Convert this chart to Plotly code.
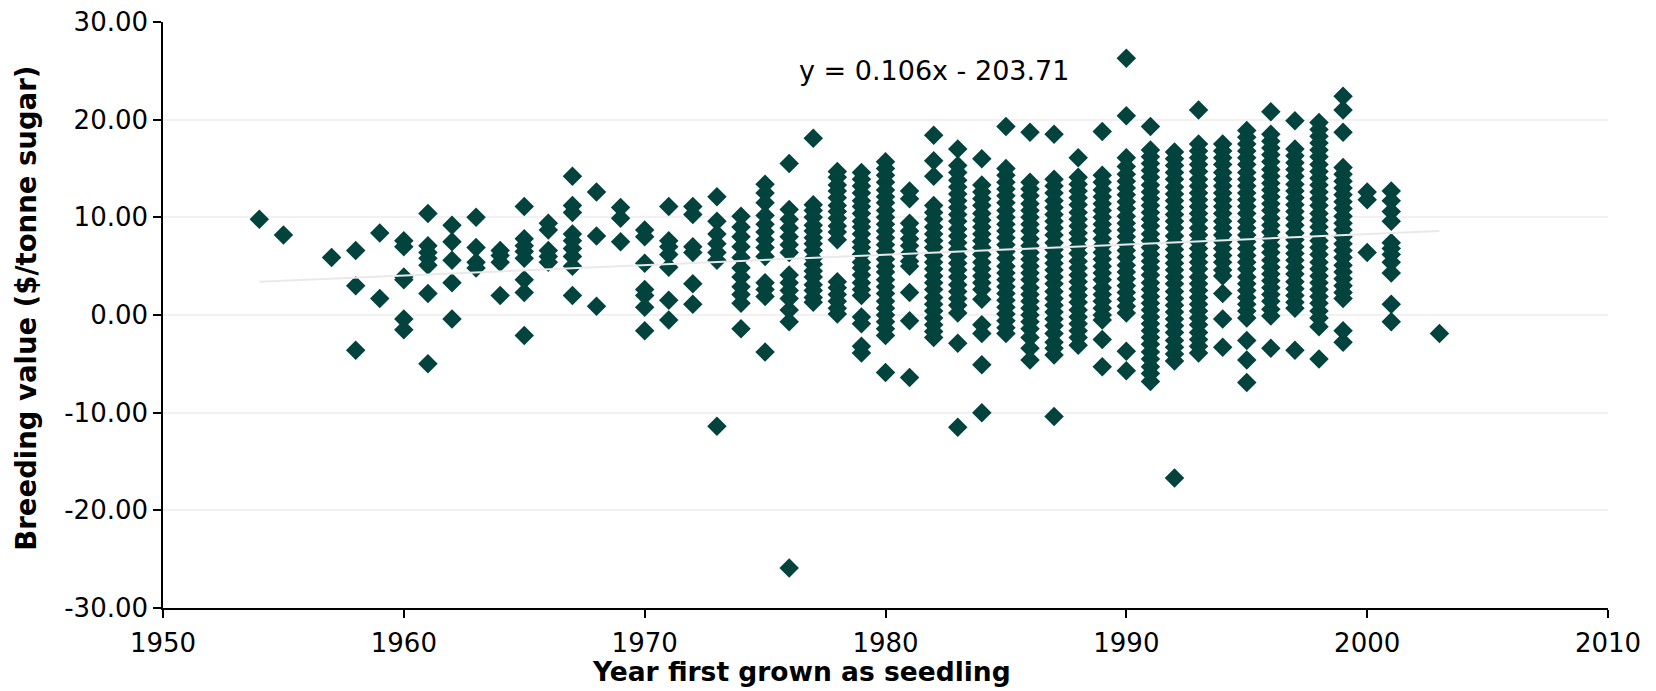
import plotly.graph_objects as go

# ---- data: breeding value ($/tonne sugar) by year first grown as seedling ----
bv_1950s = {
    1954: [9.8],
    1955: [8.2],
    1957: [5.9],
    1958: [6.6, 3.0, -3.6],
    1959: [8.4, 1.7],
}
bv_1960s = {
    1960: [7.6, 7.0, 3.9, 3.6, -0.4, -1.5],
    1961: [10.4, 7.1, 6.4, 5.8, 5.1, 2.2, -5.0],
    1962: [9.2, 7.5, 5.6, 3.3, -0.4],
    1963: [10.0, 6.9, 5.4, 4.8],
    1964: [6.6, 6.1, 5.4, 2.0],
    1965: [11.1, 7.8, 7.1, 6.5, 5.8, 3.6, 2.3, -2.1],
    1966: [9.4, 8.7, 6.6, 6.0, 5.4],
    1967: [14.2, 11.2, 10.5, 8.3, 7.6, 6.8, 6.0, 5.0, 2.0],
    1968: [12.6, 8.1, 0.9],
    1969: [11.0, 9.9, 7.5],
}
bv_1970s = {
    1970: [8.7, 8.0, 5.3, 2.6, 2.0, 0.8, -1.6],
    1971: [11.1, 7.6, 7.0, 6.2, 4.9, 1.5, -0.5],
    1972: [11.1, 10.3, 7.0, 6.4, 3.2, 1.1],
    1973: [12.1, 9.6, 8.3, 7.3, 6.4, 5.6, -11.4],
    1974: [10.1, 9.0, 8.0, 7.0, 5.9, 4.8, 3.9, 2.9, 2.1, 1.2, -1.4],
    1975: [13.4, 12.5, 11.5, 10.2, 9.3, 8.5, 7.7, 6.9, 6.0, 3.3, 2.6, 1.9, -3.8],
    1976: [15.5, 10.8, 9.8, 8.9, 8.0, 7.2, 6.4, 4.1, 3.3, 2.5, 1.7, 0.5, -0.7, -25.9],
    1977: [18.1, 11.3, 10.7, 10.0, 9.2, 8.6, 7.9, 7.3, 6.6, 5.8, 5.2, 4.5, 3.9,
           3.1, 2.5, 1.8, 1.3],
    1978: [14.7, 14.1, 13.3, 12.7, 12.0, 11.2, 10.6, 9.9, 9.1, 8.5, 7.7, 3.4, 2.8,
           2.1, 1.4, 0.7, 0.1],
    1979: [14.6, 13.9, 13.2, 12.5, 11.7, 11.1, 10.4, 9.6, 9.0, 8.3, 7.5, 6.9, 6.2,
           5.4, 4.8, 4.1, 3.3, 2.6, 2.0, -0.2, -0.9, -3.2, -3.9],
}
bv_1980s = {
    1980: [15.7, 15.0, 14.3, 13.6, 12.8, 12.1, 11.5, 10.7, 10.0, 9.3, 8.6, 7.9,
           7.2, 6.5, 5.7, 5.0, 4.4, 3.6, 2.9, 2.2, 1.4, 0.7, 0.0, -0.7, -1.4,
           -2.1, -5.9],
    1981: [12.7, 11.9, 9.4, 8.6, 7.8, 7.1, 6.3, 5.5, 5.0, 2.3, -0.6, -6.4],
    1982: [18.4, 15.8, 14.2, 11.2, 10.5, 9.8, 9.0, 8.3, 7.6, 6.9, 6.1, 5.4, 4.7,
           4.0, 3.3, 2.6, 1.8, 1.1, 0.4, -0.3, -1.0, -1.7, -2.3],
    1983: [17.0, 15.3, 14.6, 13.8, 13.1, 12.4, 11.7, 11.0, 10.3, 9.6, 8.8, 8.1,
           7.4, 6.7, 6.0, 5.3, 4.6, 3.9, 3.1, 2.4, 1.7, 1.0, 0.2, -2.9, -11.5],
    1984: [16.0, 13.3, 12.6, 11.9, 11.2, 10.4, 9.7, 9.0, 8.3, 7.6, 6.9, 6.2, 5.4,
           4.7, 4.0, 3.3, 2.6, 1.6, -1.0, -1.9, -5.1, -10.0],
    1985: [19.3, 15.0, 14.3, 13.6, 12.9, 12.2, 11.5, 10.7, 10.0, 9.3, 8.6, 7.9,
           7.2, 6.5, 5.8, 5.0, 4.3, 3.6, 2.9, 2.2, 1.5, 0.8, 0.1, -0.6, -1.3, -1.9],
    1986: [18.7, 13.6, 12.9, 12.2, 11.4, 10.7, 10.0, 9.3, 8.6, 7.8, 7.1, 6.4, 5.7,
           5.0, 4.3, 3.6, 2.8, 2.1, 1.4, 0.7, 0.0, -0.7, -1.4, -2.3, -3.4, -4.6],
    1987: [18.5, 13.9, 13.2, 12.5, 11.7, 11.0, 10.3, 9.6, 8.9, 8.2, 7.4, 6.7, 6.0,
           5.3, 4.6, 3.9, 3.2, 2.4, 1.7, 1.0, 0.3, -0.4, -1.1, -1.9, -2.8, -3.4,
           -4.1, -10.4],
    1988: [16.1, 14.1, 13.4, 12.7, 12.0, 11.3, 10.5, 9.8, 9.1, 8.4, 7.7, 7.0, 6.3,
           5.5, 4.8, 4.1, 3.4, 2.7, 2.0, 1.3, 0.5, -0.2, -0.9, -1.6, -2.3, -3.1],
    1989: [18.8, 14.3, 13.6, 12.8, 12.1, 11.4, 10.7, 10.0, 9.3, 8.6, 7.8, 7.1, 6.4,
           5.7, 5.0, 4.3, 3.6, 2.8, 2.1, 1.4, 0.7, 0.0, -0.5, -2.5, -5.3],
}
bv_1990s = {
    1990: [26.3, 20.4, 16.1, 15.2, 14.4, 13.7, 13.0, 12.3, 11.6, 10.9, 10.1, 9.4,
           8.7, 8.0, 7.3, 6.6, 5.9, 5.1, 4.4, 3.7, 3.0, 2.3, 1.6, 0.9, 0.2, -3.7,
           -5.7],
    1991: [19.3, 16.9, 16.2, 15.5, 14.8, 14.1, 13.3, 12.6, 11.9, 11.2, 10.5, 9.8,
           9.1, 8.3, 7.6, 6.9, 6.2, 5.5, 4.8, 4.1, 3.3, 2.6, 1.9, 1.2, 0.5, -0.2,
           -0.9, -1.6, -2.3, -3.0, -3.8, -4.5, -5.3, -6.0, -6.8],
    1992: [16.7, 16.0, 15.3, 14.6, 13.9, 13.1, 12.4, 11.7, 11.0, 10.3, 9.6, 8.9,
           8.1, 7.4, 6.7, 6.0, 5.3, 4.6, 3.9, 3.2, 2.4, 1.7, 1.0, 0.3, -0.4, -1.1,
           -1.8, -2.6, -3.3, -4.0, -4.7, -16.7],
    1993: [21.0, 17.5, 16.8, 16.1, 15.4, 14.7, 13.9, 13.2, 12.5, 11.8, 11.1, 10.4,
           9.7, 8.9, 8.2, 7.5, 6.8, 6.1, 5.4, 4.7, 3.9, 3.2, 2.5, 1.8, 1.1, 0.4,
           -0.3, -1.0, -1.8, -2.5, -3.2, -3.9],
    1994: [17.5, 16.8, 16.1, 15.4, 14.6, 13.9, 13.2, 12.5, 11.8, 11.1, 10.4, 9.6,
           8.9, 8.2, 7.5, 6.8, 6.1, 5.4, 4.6, 4.0, 2.2, -0.4, -3.3],
    1995: [18.9, 18.2, 17.5, 16.8, 16.1, 15.4, 14.6, 13.9, 13.2, 12.5, 11.8, 11.1,
           10.4, 9.6, 8.9, 8.2, 7.5, 6.8, 6.1, 5.4, 4.7, 3.9, 3.2, 2.5, 1.8, 1.1,
           0.4, -0.3, -2.6, -4.6, -6.9],
    1996: [20.8, 18.5, 17.8, 17.1, 16.4, 15.7, 14.9, 14.2, 13.5, 12.8, 12.1, 11.4,
           10.7, 9.9, 9.2, 8.5, 7.8, 7.1, 6.4, 5.6, 4.9, 4.2, 3.5, 2.8, 2.1, 1.4,
           0.6, -0.1, -3.4],
    1997: [19.9, 17.0, 16.3, 15.6, 14.9, 14.2, 13.4, 12.7, 12.0, 11.3, 10.6, 9.9,
           9.2, 8.4, 7.7, 7.0, 6.3, 5.6, 4.9, 4.2, 3.4, 2.7, 2.0, 1.3, 0.7, -3.6],
    1998: [19.7, 19.0, 18.3, 17.6, 16.9, 16.2, 15.4, 14.7, 14.0, 13.3, 12.6, 11.9,
           11.2, 10.4, 9.7, 9.0, 8.3, 7.6, 6.9, 6.2, 5.4, 4.7, 4.0, 3.3, 2.6, 1.9,
           1.2, 0.4, -0.3, -1.2, -4.5],
    1999: [22.4, 21.0, 18.7, 15.1, 14.4, 13.7, 13.0, 12.3, 11.6, 10.9, 10.1, 9.4,
           8.7, 8.0, 7.3, 6.6, 5.9, 5.1, 4.4, 3.7, 3.0, 2.3, 1.7, -1.6, -2.8],
}
bv_2000s = {
    2000: [12.6, 11.8, 6.4],
    2001: [12.7, 11.7, 10.6, 9.6, 7.4, 6.8, 6.2, 5.4, 4.3, 1.1, -0.7],
    2003: [-1.9],
}

# linear trend (as printed on the chart) and its year span
trend_slope = 0.106
trend_intercept = -203.71
trend_years = [1954, 2003]
equation_label = "y = 0.106x - 203.71"

x_ticks = [1950, 1960, 1970, 1980, 1990, 2000, 2010]
y_ticks = [-30, -20, -10, 0, 10, 20, 30]

# ---- build flat series ----
xs, ys = [], []
for group in (bv_1950s, bv_1960s, bv_1970s, bv_1980s, bv_1990s, bv_2000s):
    for yr, vals in group.items():
        for v in vals:
            xs.append(yr)
            ys.append(v)

trend_y = [trend_slope * t + trend_intercept for t in trend_years]

MARKER = "#02433d"
FONT = "DejaVu Sans"

fig = go.Figure()
fig.add_trace(go.Scatter(
    x=xs, y=ys, mode="markers",
    marker=dict(symbol="diamond", size=15, color=MARKER, line=dict(width=0)),
    showlegend=False, hoverinfo="x+y",
))
fig.add_trace(go.Scatter(
    x=trend_years, y=trend_y, mode="lines",
    line=dict(color="#e9e9e9", width=2),
    showlegend=False, hoverinfo="skip",
))

# the page body adds an 8px margin; offset the plot area accordingly
fig.update_layout(
    width=1640, height=683,
    margin=dict(l=155, r=40, t=14, b=83, autoexpand=False),
    paper_bgcolor="white", plot_bgcolor="white",
    font=dict(family=FONT, size=26, color="black"),
    xaxis=dict(
        range=[1950, 2010], tickvals=x_ticks, ticktext=[str(t) for t in x_ticks],
        showgrid=False, zeroline=False, showline=True, linecolor="black",
        linewidth=1.5, ticks="outside", ticklen=8, tickwidth=1.5,
        tickcolor="black", tickfont=dict(family=FONT, size=26),
        ticklabelstandoff=3, ticklabeloverflow="allow", automargin=False,
    ),
    yaxis=dict(
        range=[-30, 30], tickvals=y_ticks,
        ticktext=[f"{v:.2f}" for v in y_ticks],
        showgrid=True, gridcolor="#f1f1f1", gridwidth=1.5, zeroline=False,
        showline=True, linecolor="black", linewidth=1.5, ticks="outside",
        ticklen=8, tickwidth=1.5, tickcolor="black",
        tickfont=dict(family=FONT, size=26), ticklabelstandoff=0,
        ticklabeloverflow="allow", automargin=False,
    ),
    annotations=[
        dict(text=equation_label, x=1982.0, y=25.0, xref="x", yref="y",
             showarrow=False, font=dict(family=FONT, size=27, color="black"),
             xanchor="center", yanchor="middle"),
        dict(text="<b>Year first grown as seedling</b>", x=0.442, y=-0.108,
             xref="paper", yref="paper", showarrow=False,
             font=dict(family=FONT, size=26.5, color="black"),
             xanchor="center", yanchor="middle"),
        dict(text="<b>Breeding value ($/tonne sugar)</b>", x=-0.095, y=0.512,
             xref="paper", yref="paper", showarrow=False, textangle=-90,
             font=dict(family=FONT, size=27.5, color="black"),
             xanchor="center", yanchor="middle"),
    ],
)

fig.write_html("out.html")
